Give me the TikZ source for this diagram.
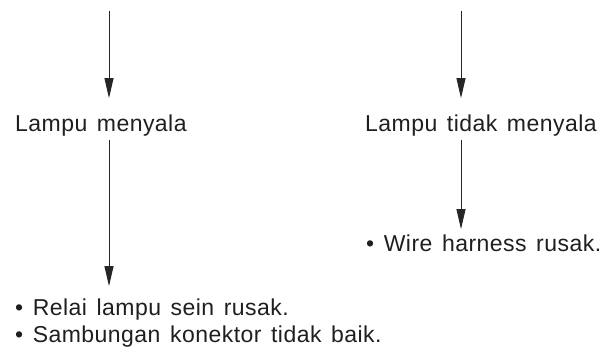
\documentclass[tikz,border=0pt]{standalone}
\usepackage{fontspec}
\setmainfont{Liberation Sans}[LetterSpace=2, WordSpace=1.4]
\usetikzlibrary{arrows.meta, positioning, calc}

\begin{document}
\begin{tikzpicture}[x=1pt, y=1pt, font=\fontsize{23}{27}\selectfont, text=black!88,
        flow/.style={>={Triangle[length=20pt, width=9pt]}, ->, line width=0.9pt, draw=black!85},
        label/.style={anchor=base west, inner sep=0pt}]
        \useasboundingbox (0,0) rectangle (603,350);

        % start points of the arrows
        \coordinate (start1) at (109,339);
        \coordinate (start2) at (461,339);

        % texts
        \node[label] (nyala) at (15,218) {Lampu menyala};
        \node[label] (mati) at (365,218) {Lampu tidak menyala};
        \node[label] (harness) at (366,98) {• Wire harness rusak.};
        \node[label] (relai) at (15,34) {• Relai lampu sein rusak.};
        \node[label] (konektor) at (15,7) {• Sambungan konektor tidak baik.};

        % arrows
        \draw[flow, shorten >=17pt] (start1) -- (start1 |- nyala.north);
        \draw[flow, shorten >=17pt] (start2) -- (start2 |- mati.north);
        \draw[flow, shorten <=3pt, shorten >=13pt] (start1 |- nyala.south) -- (start1 |- relai.north);
        \draw[flow, shorten <=3pt, shorten >=6pt] (start2 |- mati.south) -- (start2 |- harness.north);
    \end{tikzpicture}
\end{document}
